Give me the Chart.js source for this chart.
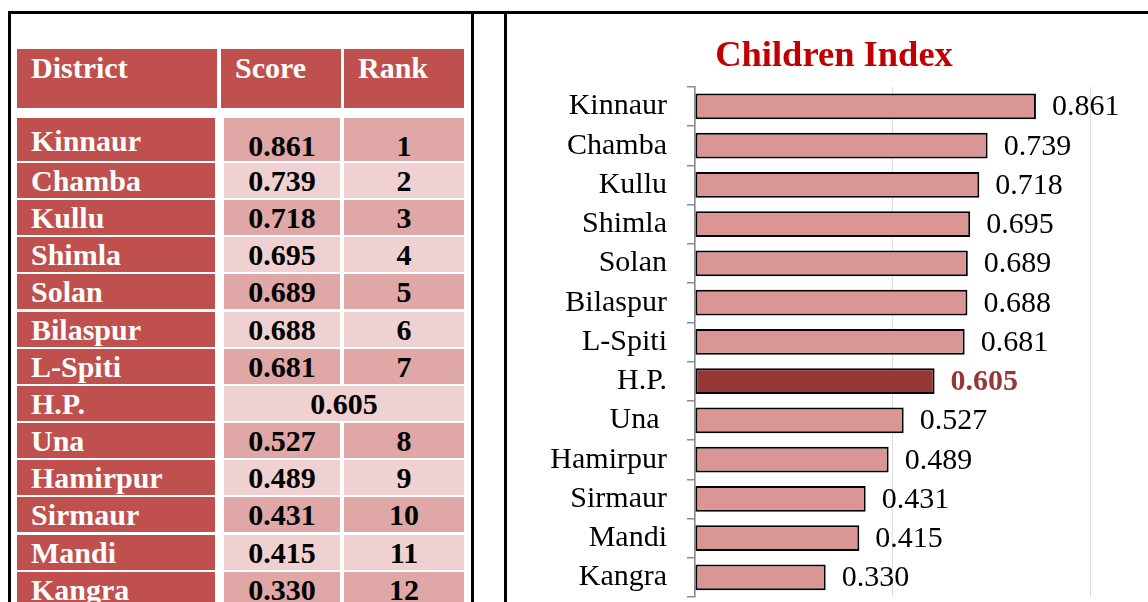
<!DOCTYPE html>
<html>
<head>
<meta charset="utf-8">
<script src="https://cdn.jsdelivr.net/npm/chart.js@4/dist/chart.umd.min.js"></script>
<style>
  html, body { margin: 0; padding: 0; background: #fff; }
  body { width: 1148px; height: 602px; overflow: hidden; position: relative;
         font-family: "Liberation Serif", "DejaVu Serif", serif; }
  .line { position: absolute; background: #000; }
  .cell { position: absolute; box-sizing: border-box; font-weight: bold; font-size: 30px;
          line-height: 35px; white-space: nowrap; }
  .head { background: #C0504D; color: #fff; padding-left: 14px; padding-top: 1px; }
  .dist { background: #C0504D; color: #fff; padding-left: 14px; }
  .num { color: #000; text-align: center; }
  .dark { background: #DFA7A6; }
  .light { background: #F0D1D1; }
  #chartBox { position: absolute; left: 520px; top: 14px; }
</style>
</head>
<body>
<div class="line" style="left:8px;top:11px;width:1140px;height:2.5px"></div>
<div class="line" style="left:8px;top:11px;width:2.5px;height:591px"></div>
<div class="line" style="left:471px;top:11px;width:2.5px;height:591px"></div>
<div class="line" style="left:504px;top:11px;width:2.5px;height:591px"></div>
<div id="table"></div>
<div id="chartBox"><canvas id="indexChart" width="628" height="588"></canvas></div>
<script>
// data
const districts = ["Kinnaur","Chamba","Kullu","Shimla","Solan","Bilaspur","L-Spiti","H.P.","Una ","Hamirpur","Sirmaur","Mandi","Kangra"];
const scores = [0.861,0.739,0.718,0.695,0.689,0.688,0.681,0.605,0.527,0.489,0.431,0.415,0.330];
const ranks = ["1","2","3","4","5","6","7","","8","9","10","11","12"];
const headers = ["District","Score","Rank"];
const stateName = "H.P.";

// table
const table = document.getElementById('table');
function cell(cls, text, left, top, width, height, extra) {
    const d = document.createElement('div');
    d.className = 'cell ' + cls;
    d.textContent = text;
    d.style.cssText = `left:${left}px;top:${top}px;width:${width}px;height:${height}px;` + (extra || '');
    table.appendChild(d);
}
cell('head', headers[0], 17, 49, 200, 59);
cell('head', headers[1], 221, 49, 120, 59);
cell('head', headers[2], 344, 49, 120, 59);

districts.forEach((name, i) => {
    const first = i === 0;
    const top = first ? 118 : 163 + (i - 1) * 37.15;
    const h = first ? 43 : 35;
    const shade = i % 2 === 0 ? 'dark' : 'light';
    cell('dist', name.trim(), 17, top, 198, h, first ? 'padding-top:5px' : '');
    const pad = first ? 'padding-top:10px' : '';
    if (name === stateName) {
        cell('num ' + shade, scores[i].toFixed(3), 224, top, 240, h, pad);
    } else {
        cell('num ' + shade, scores[i].toFixed(3), 224, top, 116, h, pad);
        cell('num ' + shade, ranks[i], 344, top, 120, h, pad);
    }
});

// chart
const valueLabels = {
    id: 'valueLabels',
    afterDatasetsDraw(chart) {
        const c = chart.ctx;
        const meta = chart.getDatasetMeta(0);
        c.save();
        c.textBaseline = 'middle';
        c.textAlign = 'left';
        meta.data.forEach((bar, i) => {
            const hp = districts[i] === stateName;
            c.font = (hp ? 'bold ' : '') + '30px "Liberation Serif"';
            c.fillStyle = hp ? '#953735' : '#000';
            c.fillText(scores[i].toFixed(3), bar.x + 16, bar.y + 1);
        });
        c.restore();
    }
};

new Chart(document.getElementById('indexChart').getContext('2d'), {
    type: 'bar',
    data: {
        labels: districts,
        datasets: [{
            data: scores,
            backgroundColor: districts.map(d => d === stateName ? '#953735' : '#D99694'),
            borderColor: '#000',
            borderWidth: 2,
            borderSkipped: false,
            barPercentage: 0.66,
            categoryPercentage: 1
        }]
    },
    options: {
        indexAxis: 'y',
        responsive: false,
        animation: false,
        layout: { padding: { left: 0, right: 0, top: 0, bottom: 5 } },
        plugins: {
            legend: { display: false },
            tooltip: { enabled: false },
            title: {
                display: true,
                text: 'Children Index',
                color: '#C00000',
                font: { family: 'Liberation Serif', size: 36.5, weight: 'bold', lineHeight: 1.2 },
                padding: { top: 21, bottom: 8 }
            }
        },
        scales: {
            x: {
                min: 0, max: 1.144,
                ticks: { display: false, stepSize: 0.5 },
                grid: {
                    color: ctx => Math.abs(ctx.tick.value * 2 - Math.round(ctx.tick.value * 2)) < 1e-6 ? '#DDDDDD' : 'rgba(0,0,0,0)',
                    lineWidth: 1, drawTicks: false
                },
                border: { display: false },
                afterFit(s) { s.height = 0; }
            },
            y: {
                ticks: { color: '#000', padding: 20, font: { family: 'Liberation Serif', size: 30 } },
                grid: { drawOnChartArea: false, drawTicks: true, tickLength: 8, color: '#8C8C8C', lineWidth: 1.5 },
                border: { display: true, color: '#8C8C8C', width: 1.5 },
                afterFit(s) { s.width = 175; s.paddingTop = 0; s.paddingBottom = 0; }
            }
        }
    },
    plugins: [valueLabels]
});
</script>
</body>
</html>
